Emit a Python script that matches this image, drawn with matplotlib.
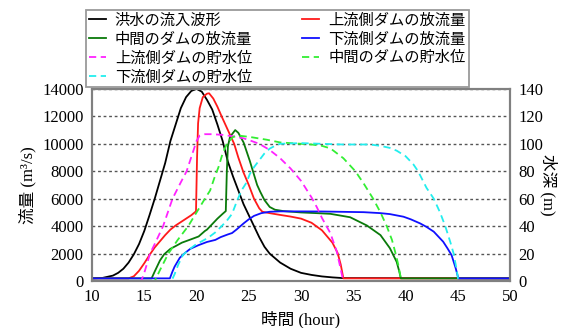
import matplotlib
matplotlib.use("Agg")
import matplotlib.pyplot as plt

plt.rcParams['font.family'] = ['Liberation Serif', 'Noto Sans CJK JP']

# 流量 (m3/s)
inflow_t = [10, 11, 12, 12.5, 13, 13.5, 14, 14.5, 15, 15.5, 16, 16.5, 17, 17.5, 18, 18.5, 19, 19.5, 20,
            20.5, 21, 21.5, 22, 22.5, 23, 23.5, 24, 24.5, 25, 25.5, 26, 26.5, 27, 28, 29, 30, 31, 32, 33, 34, 50]
inflow_q = [200, 230, 400, 600, 900, 1350, 1950, 2700, 3650, 4800, 6000, 7300, 8600, 10200, 11400, 12600, 13400, 13850, 14000,
            13800, 13200, 12500, 11400, 10200, 8700, 7600, 6600, 5600, 4800, 4000, 3200, 2500, 2000, 1350, 900, 600, 450, 340, 270, 220, 200]

up_t = [10, 13.5, 14, 14.5, 15, 15.5, 16, 16.5, 17, 17.5, 18, 18.5, 19, 19.5, 19.9, 19.95, 20.05, 20.15, 20.3, 20.6,
        21.0, 21.2, 21.6, 22.0, 22.4, 23.0, 23.6, 24.0, 24.5, 25.0, 25.5, 26.0, 26.3, 27, 28, 29, 30, 31, 32, 32.5,
        33, 33.5, 33.8, 34.0, 34.05, 50]
up_q = [200, 200, 350, 750, 1300, 1900, 2450, 2900, 3350, 3750, 4050, 4300, 4550, 4800, 5050, 5100, 9000, 11500, 12600, 13400,
        13650, 13680, 13300, 12700, 12000, 11000, 10000, 9000, 7900, 7000, 6000, 5300, 5050, 4950, 4820, 4700, 4550, 4250, 3700, 3250,
        2800, 2050, 1200, 400, 200, 200]

mid_t = [10, 15.7, 16.0, 16.5, 16.9, 17.5, 18.0, 18.6, 19.5, 20.2, 20.8, 21.0, 21.5, 22.0, 22.5, 22.8, 22.9, 23.0, 23.2,
         23.7, 24.0, 24.5, 25.1, 25.8, 26.1, 26.5, 27.0, 27.5, 28.3, 30, 31.5, 32.8, 34.7, 36.3, 37.6, 38.5, 39.15,
         39.4, 39.55, 50]
mid_q = [200, 200, 700, 1500, 1950, 2350, 2550, 2800, 3050, 3250, 3650, 3750, 4150, 4550, 4900, 5100, 8000, 9800, 10500,
         11000, 10800, 10100, 8750, 7000, 6500, 5900, 5400, 5200, 5100, 5000, 4950, 4900, 4650, 4050, 3350, 2400, 1400,
         700, 200, 200]

down_t = [10, 17.45, 17.7, 17.9, 18.4, 18.9, 19.4, 20.2, 21.0, 21.8, 22.3, 23.0, 23.4, 23.85, 24.5, 25.0, 25.5, 26.2,
          27.0, 28, 32, 36, 37.6, 38.5, 39.8, 40.5, 41.4, 42.0, 42.7, 43.6, 44.0, 44.4, 44.8, 45.05, 50]
down_q = [200, 200, 700, 1050, 1700, 2050, 2350, 2620, 2850, 3000, 3200, 3400, 3500, 3770, 4200, 4500, 4750, 4950,
          5050, 5080, 5070, 5020, 4950, 4880, 4690, 4500, 4200, 3950, 3600, 2870, 2400, 1900, 930, 200, 200]

# 水深 (m)
up_lv_t = [10, 14.7, 15.0, 15.55, 16.0, 16.8, 17.7, 18.1, 18.5, 19.05, 19.7, 20.0, 20.3, 20.8, 21.5, 22.5, 23.5, 24.5,
           25.1, 26, 27, 28, 29, 30, 31, 31.5, 32, 32.8, 33.4, 33.7, 33.9, 34.05, 50]
up_lv = [0, 0, 6, 20, 27, 40, 60, 66, 72, 80, 95, 102, 106, 107, 107, 106.5, 105.5, 104,
         102.5, 100, 95.5, 89.5, 82, 73, 61, 54, 46, 35, 22, 12, 5, 0, 0]

mid_lv_t = [10, 16.0, 16.5, 17.3, 18.2, 19.2, 20.0, 20.8, 21.3, 21.7, 22.1, 22.5, 22.9, 23.5, 24.0, 25.1, 26.7, 28,
            30, 31, 32, 32.8, 33.1, 34.05, 35.2, 36.0, 36.9, 37.6, 38.2, 38.7, 39.05, 39.3, 39.5, 39.55, 50]
mid_lv = [0, 0, 8, 20, 30, 40, 50, 60, 66, 75, 83, 93, 100, 105, 106, 105, 103, 101,
          100, 99.5, 98.5, 96.7, 95, 89.5, 80, 71, 60, 50, 40, 30, 20, 12, 4, 0, 0]

down_lv_t = [10, 17.6, 17.9, 18.25, 18.7, 19.2, 20.0, 20.5, 21.1, 21.8, 22.4, 22.9, 23.4, 23.85, 24.3, 24.8, 25.1, 25.5,
             26.1, 26.5, 27.0, 27.5, 28, 30, 32, 34, 36.6, 37.6, 38.5, 39.15, 40, 40.75, 41.2, 42, 42.7, 43.3, 43.8,
             44.3, 44.6, 44.8, 45.0, 45.05, 50]
down_lv = [0, 0, 5, 12, 19, 22.5, 27, 29, 31.5, 35.5, 40, 44, 49, 58, 66, 72, 78, 83,
           89, 93, 96.5, 98.5, 100, 100.5, 100, 99.5, 99.5, 98.5, 97, 95, 91, 85, 80, 68, 60, 50, 40,
           28, 20, 12, 3, 0, 0]

labels = ['洪水の流入波形', '上流側ダムの放流量', '中間のダムの放流量', '下流側ダムの放流量',
          '上流側ダムの貯水位', '中間のダムの貯水位', '下流側ダムの貯水位']

fig = plt.figure(figsize=(5.68, 3.28), dpi=100)
ax = fig.add_axes([0.162, 0.143, 0.736, 0.586])
ax2 = ax.twinx()

lw = 1.3
h0, = ax.plot(inflow_t, inflow_q, color='black', lw=lw)
h1, = ax.plot(up_t, up_q, color='#ff1a1a', lw=lw)
h2, = ax.plot(mid_t, mid_q, color='#0a7a0a', lw=lw)
h3, = ax.plot(down_t, down_q, color='#1010ff', lw=lw)
h4, = ax2.plot(up_lv_t, up_lv, color='#ff22ff', lw=lw, dashes=(4, 2.5))
h5, = ax2.plot(mid_lv_t, mid_lv, color='#33ee33', lw=lw, dashes=(4, 2.5))
h6, = ax2.plot(down_lv_t, down_lv, color='#22eeee', lw=lw, dashes=(4, 2.5))

ax.set_xlim(10, 50)
ax.set_ylim(0, 14000)
ax2.set_ylim(0, 140)
ax.set_xticks(range(10, 51, 5))
ax.set_yticks(range(0, 14001, 2000))
ax2.set_yticks(range(0, 141, 20))
ax.yaxis.grid(True, color='#555555', linestyle=(0, (2, 2)), lw=1.0)
ax.set_axisbelow(True)

for a in (ax, ax2):
    a.tick_params(length=0, labelsize=12, pad=6)
    for s in a.spines.values():
        s.set_color('#808080')
        s.set_linewidth(1.5)

ax.set_ylabel('流量 (m³/s)', fontsize=12, labelpad=4)
ax2.set_ylabel('水深 (m)', fontsize=12, rotation=270, labelpad=10)
ax.set_xlabel('時間 (hour)', fontsize=12, labelpad=4)

handles = [h0, h2, h4, h6, h1, h3, h5]
order = [0, 2, 4, 6, 1, 3, 5]
leg = fig.legend(handles, [labels[i] for i in order], ncol=2, loc='upper left',
                 bbox_to_anchor=(0.151, 0.968), fontsize=11, frameon=True, fancybox=False,
                 handlelength=1.1, handletextpad=0.6, columnspacing=3.3, labelspacing=0.3,
                 borderpad=0.2, borderaxespad=0)
leg.get_frame().set_edgecolor('#808080')
leg.get_frame().set_linewidth(1.3)

fig.savefig('out.png', dpi=100)
